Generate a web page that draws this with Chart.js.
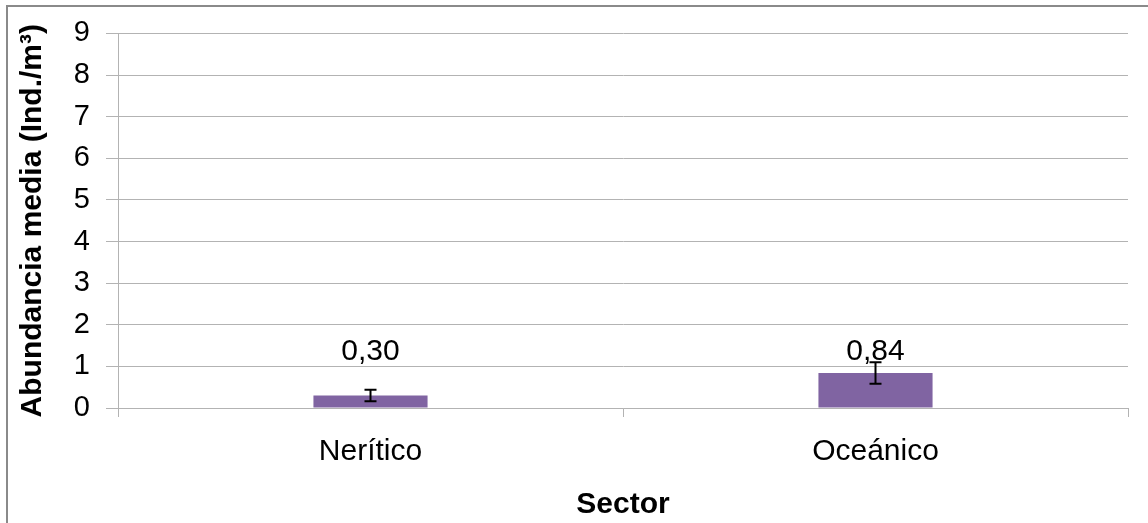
<!DOCTYPE html>
<html><head><meta charset="utf-8">
<script src="https://cdn.jsdelivr.net/npm/chart.js@4.4.1/dist/chart.umd.min.js"></script>
<style>html,body{margin:0;padding:0;background:#fff;overflow:hidden}#wrap{width:1148px;height:523px;position:relative}</style>
</head><body><div id="wrap"><canvas id="c" width="1148" height="523"></canvas></div>
<script>
const categories = ['Nerítico', 'Oceánico'];
const abundance = [0.30, 0.84];
const errors = [0.14, 0.26];
const valueLabels = ['0,30', '0,84'];
const yMin = 0, yMax = 9, yStep = 1;
const yTitle = 'Abundancia media (Ind./m³)';
const xTitle = 'Sector';

const FONT = "'Liberation Sans', Arial, sans-serif";
const GRID = '#b3b3b3';

const extras = {
  id: 'extras',
  beforeDraw(chart) {
    const ctx = chart.ctx;
    ctx.save();
    ctx.strokeStyle = '#8a8a8a';
    ctx.lineWidth = 2;
    ctx.strokeRect(7, 6, 1200, 600);
    ctx.restore();
  },
  afterDatasetsDraw(chart) {
    const ctx = chart.ctx;
    const y = chart.scales.y;
    const meta = chart.getDatasetMeta(0);
    ctx.save();
    meta.data.forEach((bar, i) => {
      const x = bar.x;
      const top = y.getPixelForValue(abundance[i] + errors[i]);
      const bot = y.getPixelForValue(abundance[i] - errors[i]);
      ctx.strokeStyle = '#000';
      ctx.lineWidth = 2;
      ctx.beginPath();
      ctx.moveTo(x, top); ctx.lineTo(x, bot);
      ctx.moveTo(x - 6, top); ctx.lineTo(x + 6, top);
      ctx.moveTo(x - 6, bot); ctx.lineTo(x + 6, bot);
      ctx.stroke();
      ctx.fillStyle = '#000';
      ctx.font = '30px ' + FONT;
      ctx.textAlign = 'center';
      ctx.textBaseline = 'middle';
      ctx.fillText(valueLabels[i], x, y.getPixelForValue(1.35));
    });
    ctx.restore();
  }
};

new Chart(document.getElementById('c'), {
  type: 'bar',
  data: {
    labels: categories,
    datasets: [{
      data: abundance,
      backgroundColor: '#8064a2',
      borderWidth: 0,
      categoryPercentage: 1,
      barPercentage: 0.226
    }]
  },
  options: {
    responsive: false,
    animation: false,
    devicePixelRatio: 1,
    layout: { padding: { left: 0, right: 20, top: 32, bottom: 0 } },
    plugins: { legend: { display: false }, tooltip: { enabled: false } },
    scales: {
      x: {
        offset: true,
        grid: { offset: true, drawOnChartArea: false, color: GRID, tickLength: 9, lineWidth: 1 },
        border: { color: GRID },
        ticks: { color: '#000', font: { family: FONT, size: 30 }, padding: 17 },
        title: { display: true, text: xTitle, color: '#000', font: { family: FONT, size: 30, weight: 'bold' }, padding: { top: 0, bottom: 0 } },
        afterFit(s) { s.height = 115; }
      },
      y: {
        min: yMin, max: yMax,
        grid: { color: GRID, tickLength: 12, lineWidth: 1 },
        border: { color: GRID },
        ticks: { stepSize: yStep, color: '#000', font: { family: FONT, size: 29 }, padding: 16 },
        title: { display: true, text: yTitle, color: '#000', font: { family: FONT, size: 30, weight: 'bold' }, padding: { top: 15, bottom: 0 } },
        afterFit(s) { s.width = 118; }
      }
    }
  },
  plugins: [extras]
});
</script></body></html>
